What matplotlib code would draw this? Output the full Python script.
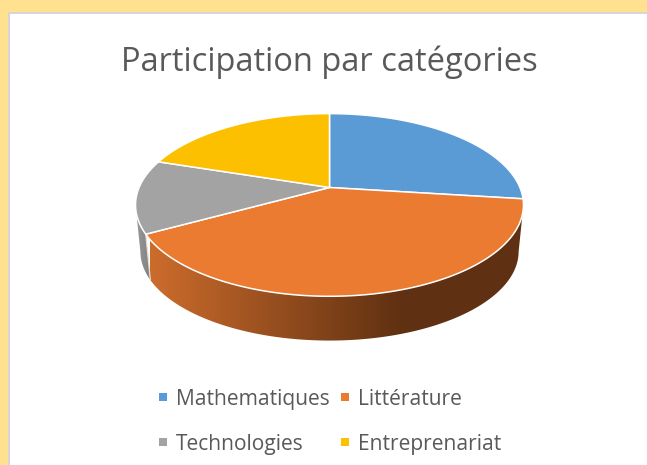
import matplotlib
matplotlib.use("Agg")
import matplotlib.pyplot as plt
import numpy as np
from matplotlib.colors import LinearSegmentedColormap
from matplotlib.patches import Polygon, Rectangle

categories = ["Mathematiques", "Littérature", "Technologies", "Entreprenariat"]
values = [27, 40, 13, 20]
colors = ["#5B9BD5", "#EB7B30", "#A3A3A3", "#FDC000"]
title = "Participation par catégories"

# geometry of the tilted pie, in pixels
CX, CY = 329.5, 187.5
R, B, K = 190.4, 88.0, 0.191
DEPTH, SHRINK = 47.0, 0.975


def project(theta, drop=0.0, scale=1.0):
    x = np.cos(theta)
    y = np.sin(theta)
    w = 1 + K * y
    return CX + scale * R * x / w, CY + drop - scale * B * y / w


fig = plt.figure(figsize=(6.47, 4.65), dpi=100, facecolor="#FFE18F")
ax = fig.add_axes([0, 0, 1, 1])
ax.set_xlim(0, 647)
ax.set_ylim(465, 0)
ax.axis("off")

# white chart area with its grey border
ax.add_patch(Rectangle((8, 12), 650, 460, fc="#D6D6D6", ec="none", zorder=0))
ax.add_patch(Rectangle((10, 14), 650, 460, fc="white", ec="none", zorder=0))

# slice angles, clockwise from the top
shares = np.array(values) / sum(values)
ends = np.cumsum(shares) * 2 * np.pi
starts = ends - shares * 2 * np.pi
wall_cmaps = {
    1: LinearSegmentedColormap.from_list(
        "o", [(0, "#CC6C2C"), (0.4, "#5F3011"), (1, "#623213")]),
    2: LinearSegmentedColormap.from_list("g", ["#9A9A9A", "#7E7E7E"]),
}

# side walls first, only the front part of the rim shows
for i, (a, b) in enumerate(zip(starts, ends)):
    t = np.pi / 2 - np.linspace(a, b, 600)
    t = t[np.sin(t) <= -K]
    if len(t) < 2:
        continue
    tx, ty = project(t)
    bx, by = project(t, drop=DEPTH, scale=SHRINK)
    poly = Polygon(np.r_[np.c_[tx, ty], np.c_[bx, by][::-1]], closed=True,
                   fc="none", ec="none", zorder=1)
    ax.add_patch(poly)
    x0, x1 = (150, 403 + (403 - 150) * 0.6 / 0.4) if i == 1 else (136, 152)
    img = ax.imshow(np.linspace(0, 1, 256)[None, :], cmap=wall_cmaps[i],
                    extent=(x0, x1, 345, 190), aspect="auto", zorder=1)
    img.set_clip_path(poly)

# the wall seam between orange and grey
seam = np.pi / 2 - ends[1]
sx0, sy0 = project(seam)
sx1, sy1 = project(seam, drop=DEPTH, scale=SHRINK)
ax.plot([sx0, sx1], [sy0, sy1], color="#E8DCD2", lw=0.9, zorder=2)

# top surface
for a, b, c in zip(starts, ends, colors):
    t = np.pi / 2 - np.linspace(a, b, 200)
    tx, ty = project(t)
    pts = np.r_[[[CX, CY]], np.c_[tx, ty]]
    ax.add_patch(Polygon(pts, closed=True, fc=c, ec="white", lw=1.1,
                         joinstyle="round", zorder=3))

ax.text(329.5, 58, title, family="Open Sans", fontsize=23.5, color="#595959",
        ha="center", va="center_baseline")

# legend, two rows of two
legend_x = [159, 341]
legend_y = [397, 442]
for i, (name, c) in enumerate(zip(categories, colors)):
    lx = legend_x[i % 2]
    ly = legend_y[i // 2]
    ax.add_patch(Rectangle((lx, ly - 4), 8, 8, fc=c, ec="none"))
    ax.text(lx + 17, ly, name, family="Open Sans", fontsize=15.1,
            color="#595959", ha="left", va="center_baseline")

ax.set_xlim(0, 647)
ax.set_ylim(465, 0)
fig.savefig("out.png", dpi=100, facecolor=fig.get_facecolor())
